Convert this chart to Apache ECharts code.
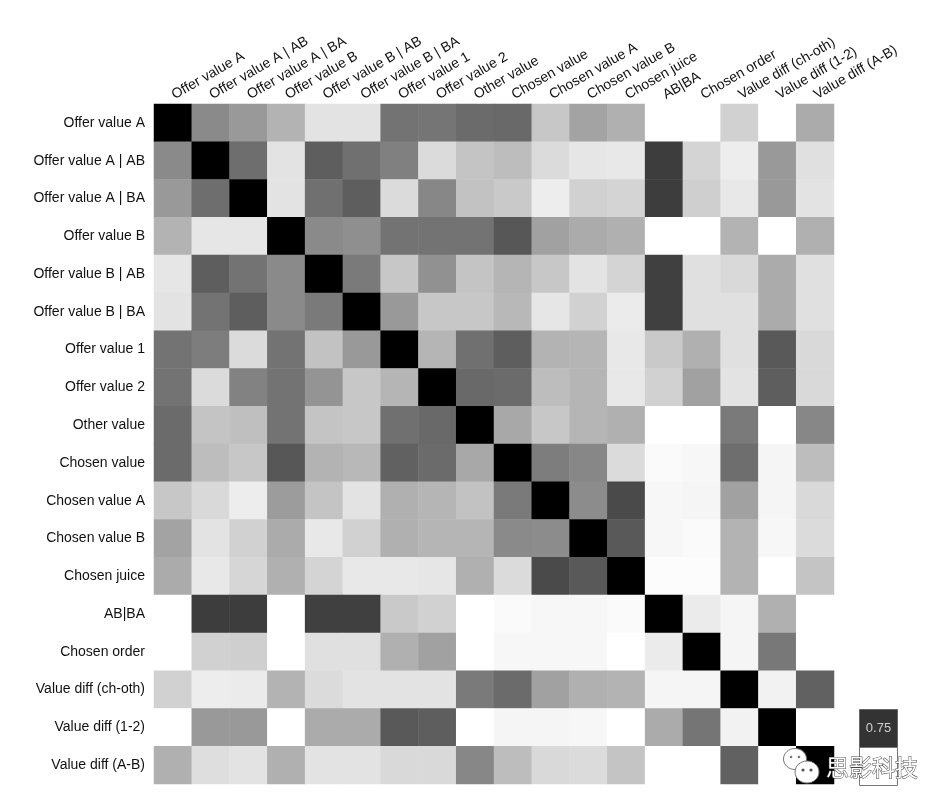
<!DOCTYPE html>
<html>
<head>
<meta charset="utf-8">
<script src="https://cdn.jsdelivr.net/npm/echarts@6/dist/echarts.min.js"></script>
<style>
html,body{margin:0;padding:0;background:#fff;}
#chart{width:948px;height:810px;}
</style>
</head>
<body>
<div id="chart"></div>
<script>
const labels = ["Offer value A","Offer value A | AB","Offer value A | BA","Offer value B","Offer value B | AB","Offer value B | BA","Offer value 1","Offer value 2","Other value","Chosen value","Chosen value A","Chosen value B","Chosen juice","AB|BA","Chosen order","Value diff (ch-oth)","Value diff (1-2)","Value diff (A-B)"];
const topLabels = ["Offer value A","Offer value A | AB","Offer value A | BA","Offer value B","Offer value B | AB","Offer value B | BA","Offer value 1","Offer value 2","Other value","Chosen value","Chosen value A","Chosen value B","Chosen juice","AB|BA","Chosen order","Value diff (ch-oth)","Value diff (1-2)","Value diff (A-B)"];

// absolute correlation, rows top to bottom, columns left to right
const row0  = [1.00,0.46,0.40,0.30,0.11,0.11,0.55,0.54,0.58,0.59,0.22,0.36,0.31,0,0,0.18,0,0.33];
const row1  = [0.46,1.00,0.57,0.11,0.63,0.56,0.50,0.14,0.23,0.26,0.14,0.10,0.09,0.76,0.17,0.07,0.40,0.12];
const row2  = [0.40,0.57,1.00,0.11,0.56,0.63,0.14,0.47,0.24,0.21,0.07,0.18,0.17,0.76,0.19,0.09,0.40,0.11];
const row3  = [0.30,0.10,0.10,1.00,0.46,0.44,0.55,0.55,0.55,0.66,0.37,0.33,0.31,0,0,0.30,0,0.31];
const row4  = [0.10,0.63,0.55,0.46,1.00,0.52,0.22,0.43,0.23,0.29,0.22,0.11,0.17,0.75,0.12,0.15,0.33,0.12];
const row5  = [0.11,0.55,0.63,0.46,0.52,1.00,0.40,0.22,0.22,0.28,0.10,0.18,0.08,0.75,0.12,0.12,0.33,0.12];
const row6  = [0.55,0.51,0.14,0.55,0.24,0.40,1.00,0.29,0.56,0.63,0.30,0.29,0.09,0.21,0.31,0.12,0.65,0.15];
const row7  = [0.55,0.14,0.49,0.55,0.42,0.22,0.29,1.00,0.59,0.58,0.26,0.29,0.09,0.18,0.37,0.11,0.63,0.15];
const row8  = [0.58,0.23,0.25,0.55,0.23,0.22,0.56,0.59,1.00,0.34,0.22,0.29,0.31,0,0,0.52,0,0.47];
const row9  = [0.58,0.26,0.22,0.66,0.30,0.28,0.62,0.58,0.34,1.00,0.51,0.47,0.14,0.02,0.03,0.57,0.04,0.26];
const row10 = [0.22,0.15,0.07,0.39,0.23,0.11,0.31,0.29,0.24,0.52,1.00,0.45,0.71,0.03,0.04,0.37,0.04,0.15];
const row11 = [0.36,0.11,0.18,0.33,0.09,0.18,0.31,0.29,0.29,0.46,0.45,1.00,0.65,0.03,0.02,0.30,0.03,0.14];
const row12 = [0.33,0.09,0.16,0.31,0.17,0.09,0.09,0.10,0.31,0.14,0.71,0.65,1.00,0.01,0.01,0.30,0,0.23];
const row13 = [0,0.76,0.76,0,0.75,0.75,0.21,0.18,0,0.02,0.03,0.03,0.02,1.00,0.08,0.04,0.31,0];
const row14 = [0,0.18,0.19,0,0.12,0.12,0.31,0.37,0,0.03,0.03,0.03,0,0.08,1.00,0.04,0.53,0];
const row15 = [0.18,0.07,0.08,0.30,0.14,0.11,0.11,0.11,0.52,0.58,0.37,0.31,0.30,0.04,0.04,1.00,0.05,0.62];
const row16 = [0,0.40,0.40,0,0.33,0.33,0.65,0.63,0,0.04,0.04,0.03,0,0.33,0.54,0.05,1.00,0];
const row17 = [0.31,0.13,0.11,0.31,0.11,0.11,0.15,0.15,0.47,0.26,0.15,0.14,0.23,0,0,0.62,0,1.00];
const rows = [row0,row1,row2,row3,row4,row5,row6,row7,row8,row9,row10,row11,row12,row13,row14,row15,row16,row17];

const colorbarLabel = "0.75";
const watermark = "思影科技";

const data = [];
rows.forEach((r, y) => r.forEach((v, x) => data.push([x, y, v])));

const chart = echarts.init(document.getElementById('chart'), null, {renderer: 'canvas'});
const font = "'Liberation Sans', Arial, Helvetica, sans-serif";
chart.setOption({
  backgroundColor: '#ffffff',
  animation: false,
  grid: {left: 154, top: 104, width: 680, height: 680},
  xAxis: {
    type: 'category', position: 'top', data: topLabels,
    axisLine: {show: false}, axisTick: {show: false}, splitLine: {show: false},
    axisLabel: {interval: 0, rotate: -30, margin: 8, fontSize: 14, color: '#111', fontFamily: font}
  },
  yAxis: {
    type: 'category', inverse: true, data: labels,
    axisLine: {show: false}, axisTick: {show: false}, splitLine: {show: false},
    axisLabel: {interval: 0, margin: 9, fontSize: 14, color: '#111', fontFamily: font}
  },
  visualMap: {
    show: false, min: 0, max: 1, dimension: 2,
    inRange: {color: ['#ffffff', '#000000']}
  },
  series: [{
    type: 'heatmap', data: data,
    itemStyle: {borderWidth: 0},
    emphasis: {disabled: true}
  }],
  graphic: [
    {type: 'rect', z: 100, shape: {x: 859.5, y: 709.5, width: 38, height: 38}, style: {fill: '#333333', stroke: '#666', lineWidth: 1}},
    {type: 'rect', z: 100, shape: {x: 859.5, y: 747.5, width: 38, height: 38}, style: {fill: '#ffffff', stroke: '#777', lineWidth: 1}},
    {type: 'text', z: 101, x: 878.5, y: 728.5, style: {text: colorbarLabel, fill: '#cfcfcf', font: '13px ' + font, align: 'center', verticalAlign: 'middle'}},
    {type: 'ellipse', z: 102, shape: {cx: 795, cy: 759, rx: 11.5, ry: 10.5}, style: {fill: '#ffffff', stroke: '#777', lineWidth: 1}},
    {type: 'circle', z: 103, shape: {cx: 791, cy: 757, r: 1.3}, style: {fill: '#777'}},
    {type: 'circle', z: 103, shape: {cx: 799, cy: 757, r: 1.3}, style: {fill: '#777'}},
    {type: 'ellipse', z: 104, shape: {cx: 807, cy: 772, rx: 12, ry: 11}, style: {fill: '#ffffff', stroke: '#777', lineWidth: 1}},
    {type: 'circle', z: 105, shape: {cx: 803, cy: 770, r: 1.6}, style: {fill: '#555'}},
    {type: 'circle', z: 105, shape: {cx: 811, cy: 770, r: 1.6}, style: {fill: '#555'}},
    {type: 'text', z: 106, x: 826, y: 767, style: {text: watermark, fill: '#ffffff', stroke: '#444', lineWidth: 1, font: '23px "Noto Sans CJK SC", sans-serif', align: 'left', verticalAlign: 'middle'}}
  ]
});
</script>
</body>
</html>
